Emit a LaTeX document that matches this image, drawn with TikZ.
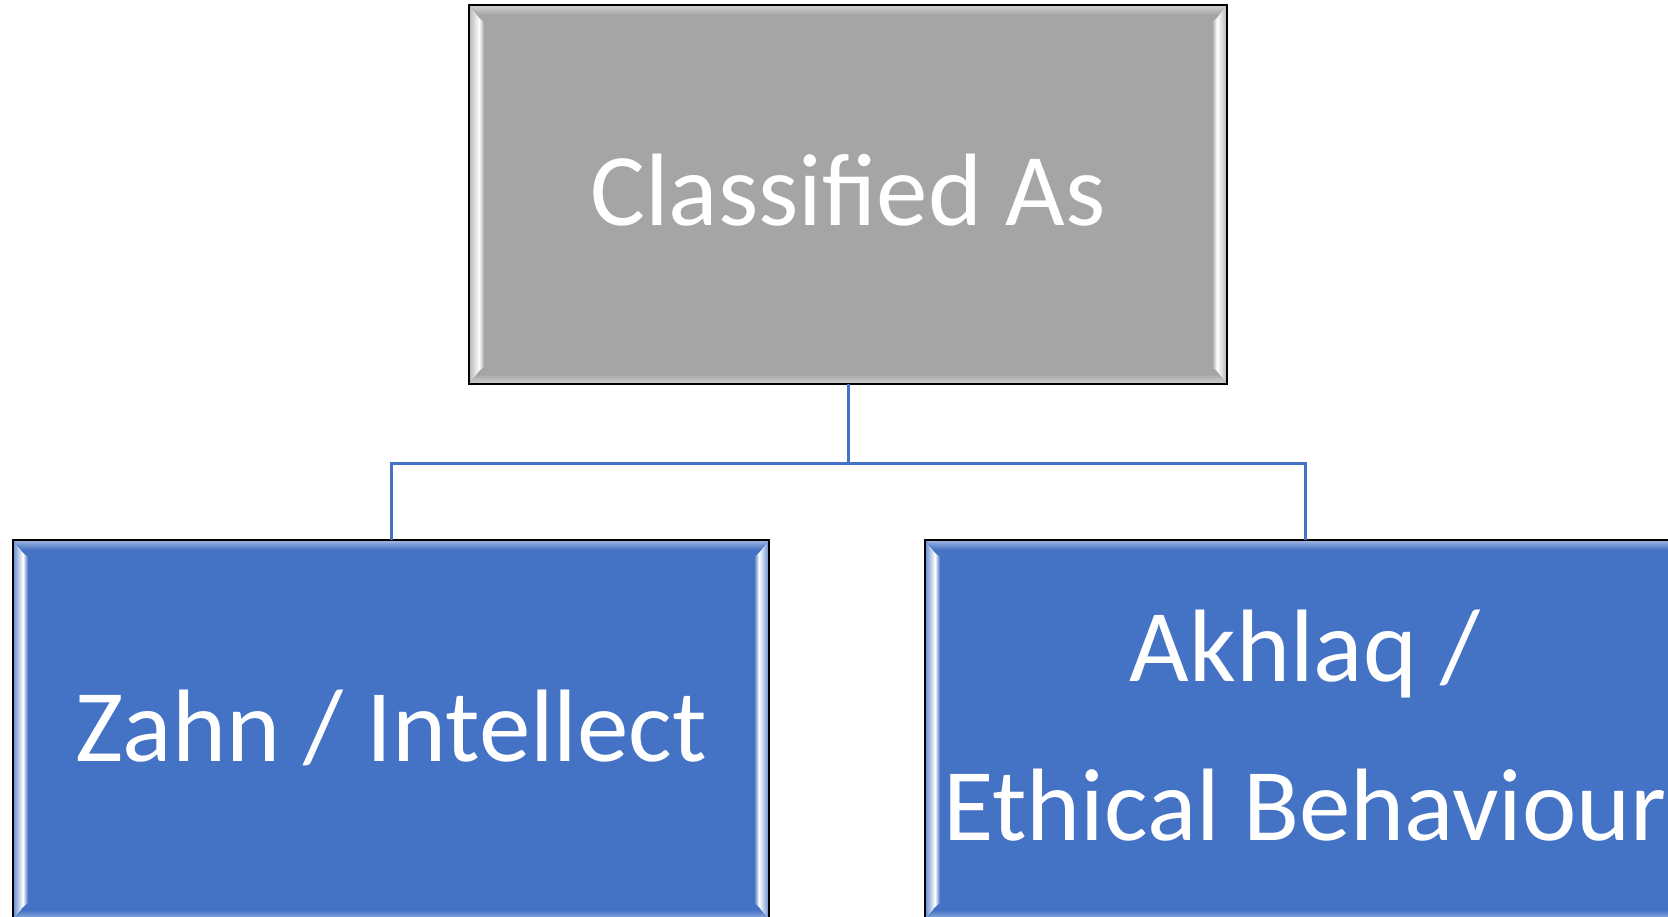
\documentclass[tikz,border=0pt]{standalone}
\usepackage{fontspec}
\setmainfont{Carlito}
\usetikzlibrary{calc}
\definecolor{boxgray}{HTML}{A5A5A5}
\definecolor{boxblue}{HTML}{4472C4}
\definecolor{linkblue}{HTML}{4472C4}
\tikzset{
  bevelbox/.style={rectangle, draw=black, line width=2pt, fill=#1,
    inner sep=0pt, outer sep=0pt, minimum width=756pt, minimum height=380pt,
    path picture={
      \coordinate (bl) at (path picture bounding box.south west);
      \coordinate (br) at (path picture bounding box.south east);
      \coordinate (tl) at (path picture bounding box.north west);
      \coordinate (tr) at (path picture bounding box.north east);
      % top rim
      \shade[top color=#1!55!white, bottom color=#1]
        ($(tl)+(1pt,-1pt)$) -- ($(tr)+(-1pt,-1pt)$) -- ($(tr)+(-10pt,-10pt)$) -- ($(tl)+(10pt,-10pt)$) -- cycle;
      % bottom rim
      \shade[bottom color=#1!55!white, top color=#1]
        ($(bl)+(1pt,1pt)$) -- ($(br)+(-1pt,1pt)$) -- ($(br)+(-10pt,10pt)$) -- ($(bl)+(10pt,10pt)$) -- cycle;
      % left rim
      \shade[left color=#1!75!white, right color=white]
        ($(bl)+(1pt,1pt)$) -- ($(tl)+(1pt,-1pt)$) -- ($(tl)+(10pt,-13pt)$) -- ($(bl)+(10pt,13pt)$) -- cycle;
      \shade[left color=white, right color=#1]
        ($(bl)+(10pt,13pt)$) -- ($(tl)+(10pt,-13pt)$) -- ($(tl)+(15pt,-17pt)$) -- ($(bl)+(15pt,17pt)$) -- cycle;
      % right rim
      \shade[right color=#1!75!white, left color=white]
        ($(br)+(-1pt,1pt)$) -- ($(tr)+(-1pt,-1pt)$) -- ($(tr)+(-10pt,-13pt)$) -- ($(br)+(-10pt,13pt)$) -- cycle;
      \shade[right color=white, left color=#1]
        ($(br)+(-10pt,13pt)$) -- ($(tr)+(-10pt,-13pt)$) -- ($(tr)+(-15pt,-17pt)$) -- ($(br)+(-15pt,17pt)$) -- cycle;
    }},
  lbl/.style={text=white, font=\fontsize{103pt}{124pt}\selectfont, inner sep=0pt, anchor=base},
  conn/.style={draw=linkblue, line width=3pt}
}
\begin{document}
\begin{tikzpicture}[x=1pt, y=-1pt]
  \clip (0,0) rectangle (1668,917);
  \fill[white] (0,0) rectangle (1668,917);

  \node[bevelbox=boxgray, minimum width=758pt, minimum height=379pt] (top) at (848,194.5) {};
  \node[bevelbox=boxblue] (left) at (391,730) {};
  \node[bevelbox=boxblue, minimum width=761pt] (right) at (1305.5,730) {};

  \coordinate (j) at (848,463);
  \draw[conn] (top.south) -- (j);
  \draw[conn] (left.north) |- (j) -| (right.north);

  \node[lbl] (ttext) at (848,226) {Classified As};
  \node[lbl] (ltext) at (391,761) {Zahn / Intellect};
  \node[lbl] (rtext1) at (1305,681) {Akhlaq /};
  \node[lbl] (rtext2) at (1305,840) {Ethical Behaviour};
\end{tikzpicture}
\end{document}
